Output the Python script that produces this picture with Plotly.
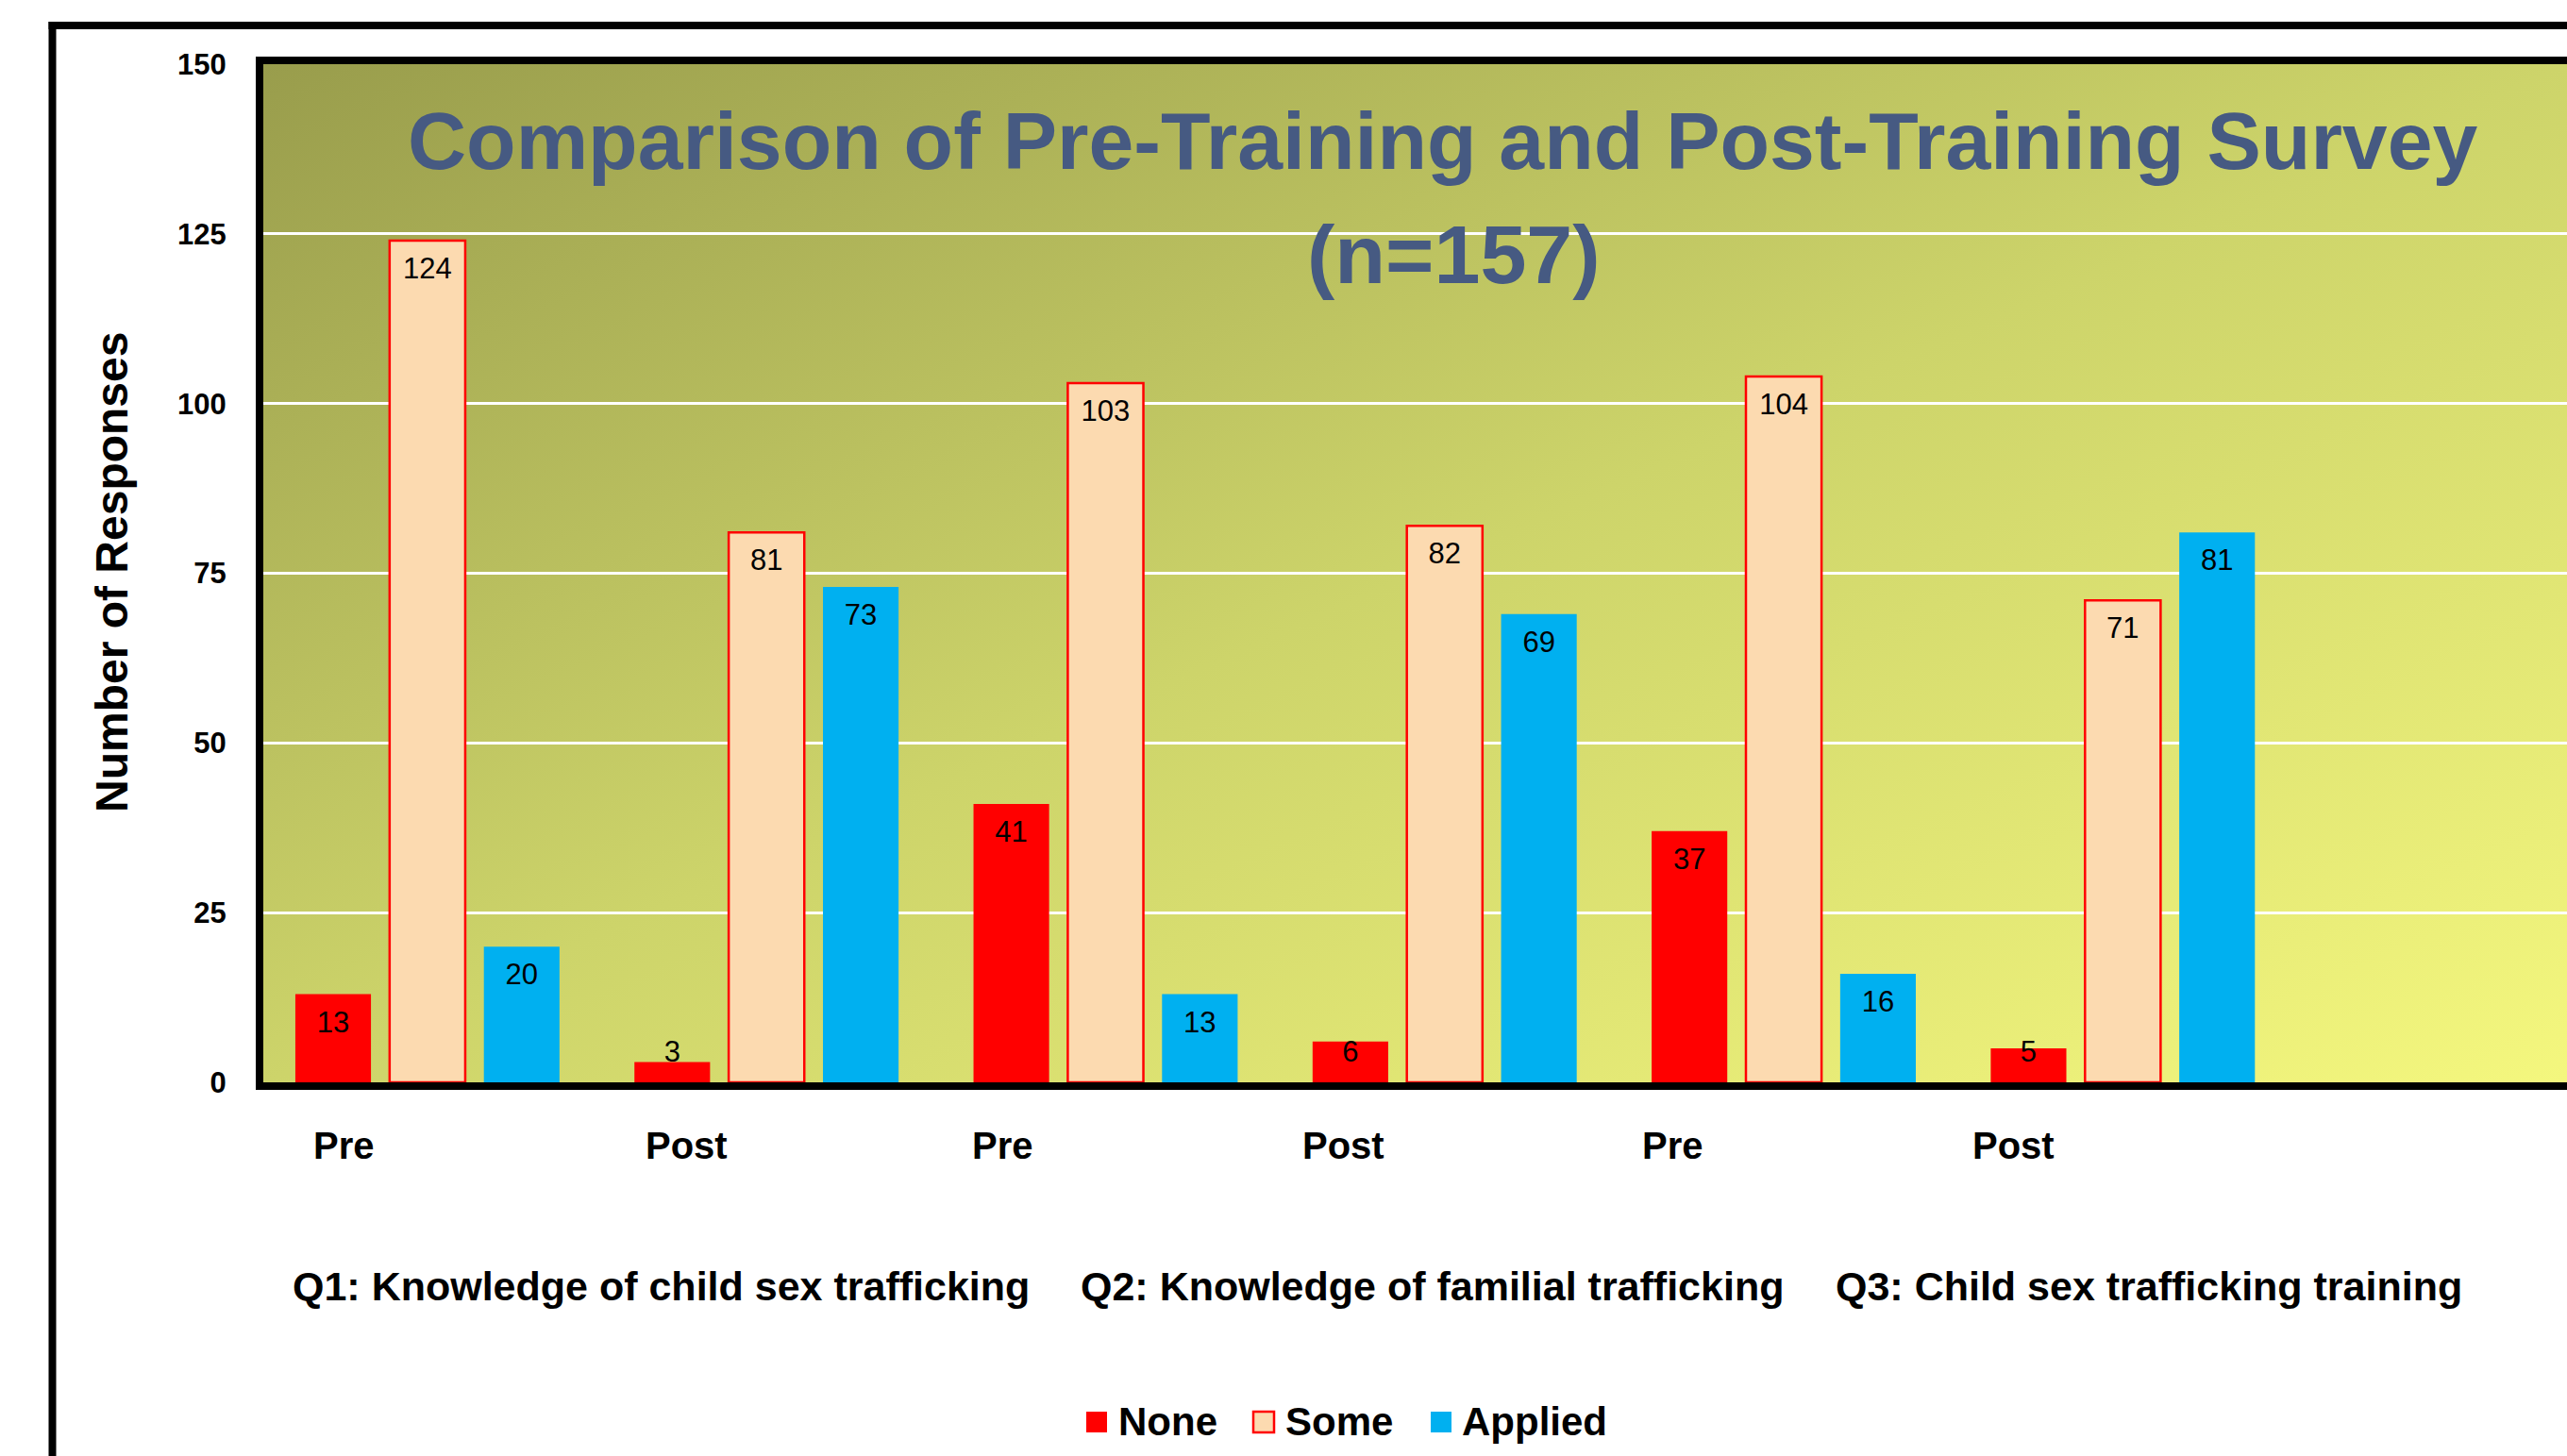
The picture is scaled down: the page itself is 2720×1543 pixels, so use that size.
import base64
import plotly.graph_objects as go

# ---------------- data ----------------
categories = ["Pre", "Post", "Pre", "Post", "Pre", "Post"]
questions = [
    "Q1: Knowledge of child sex trafficking",
    "Q2: Knowledge of familial trafficking",
    "Q3: Child sex trafficking training",
]
series_names = ["None", "Some", "Applied"]
none_vals = [13, 3, 41, 6, 37, 5]
some_vals = [124, 81, 103, 82, 104, 71]
applied_vals = [20, 73, 13, 69, 16, 81]
y_ticks = [0, 25, 50, 75, 100, 125, 150]
title_line1 = "Comparison of Pre-Training and Post-Training Survey"
title_line2 = "(n=157)"
y_title = "Number of Responses"

# ---------------- layout constants ----------------
W, H = 2720, 1543
L, R, T, B = 279, 0, 68, 396
PW, PH = W - L - R, H - T - B


def px(x):
    return (x - L) / PW


def py(y):
    return (H - B - y) / PH


X_RANGE = [-0.484, 6.31]
BAR_STEP = 0.278
BAR_W = 0.223
LABEL_OFF_TOP = 4.5
LABEL_OFF_BASE = 4.15
CAT_LABEL_SHIFT = [-0.245, -0.237, -0.302, -0.298, -0.326, -0.322]
Q_LABEL_LEFT = [-0.404, 1.920, 4.147]

FONT = "Liberation Sans, Arial, sans-serif"
RED = "#FF0000"
PEACH = "#FCDAB0"
BLUE = "#00B0F0"
TITLE_COLOR = "#465a82"

series = [
    (series_names[0], none_vals, RED, dict(width=0)),
    (series_names[1], some_vals, PEACH, dict(width=2.5, color=RED)),
    (series_names[2], applied_vals, BLUE, dict(width=0)),
]

idx = list(range(len(categories)))
fig = go.Figure()
for k, (name, vals, color, line) in enumerate(series):
    xs = [i + (k - 1) * BAR_STEP for i in idx]
    fig.add_trace(go.Bar(
        x=xs, y=vals, width=BAR_W, name=name,
        marker=dict(color=color, line=line),
        showlegend=False,
    ))
    fig.add_trace(go.Scatter(
        x=xs, y=[max(v - LABEL_OFF_TOP, LABEL_OFF_BASE) for v in vals],
        text=[str(v) for v in vals], mode="text",
        textposition="middle center",
        textfont=dict(family=FONT, size=31, color="black"),
        hoverinfo="skip", showlegend=False,
    ))

annotations = []
# category labels (Pre / Post)
for i, lab in enumerate(categories):
    annotations.append(dict(
        x=i + CAT_LABEL_SHIFT[i], y=py(1214), xref="x", yref="paper",
        text=f"<b>{lab}</b>", showarrow=False, xanchor="center", yanchor="middle",
        font=dict(family=FONT, size=40, color="black"),
    ))
# question labels
for q, xl in zip(questions, Q_LABEL_LEFT):
    annotations.append(dict(
        x=xl, y=py(1363), xref="x", yref="paper",
        text=f"<b>{q}</b>", showarrow=False, xanchor="left", yanchor="middle",
        font=dict(family=FONT, size=43, color="black"),
    ))
# title inside plot
annotations.append(dict(
    x=px(1529), y=py(149), xref="paper", yref="paper",
    text=f"<b>{title_line1}</b>", showarrow=False, xanchor="center", yanchor="middle",
    font=dict(family=FONT, size=86, color=TITLE_COLOR),
))
annotations.append(dict(
    x=px(1540), y=py(269), xref="paper", yref="paper",
    text=f"<b>{title_line2}</b>", showarrow=False, xanchor="center", yanchor="middle",
    font=dict(family=FONT, size=88, color=TITLE_COLOR),
))
# y-axis title
annotations.append(dict(
    x=px(118), y=py(607), xref="paper", yref="paper",
    text=f"<b>{y_title}</b>", showarrow=False, textangle=-90,
    xanchor="center", yanchor="middle",
    font=dict(family=FONT, size=48, color="black"),
))

# manual legend
shapes = []
legend_items = [
    (series_names[0], RED, None, 1151, 1183),
    (series_names[1], PEACH, RED, 1328, 1360),
    (series_names[2], BLUE, None, 1516, 1547),
]
for name, fill, border, sq_x, tx in legend_items:
    shapes.append(dict(
        type="rect", xref="paper", yref="paper",
        x0=px(sq_x), x1=px(sq_x + 22), y0=py(1518), y1=py(1496),
        fillcolor=fill,
        line=dict(color=border if border else fill, width=2.5 if border else 0),
    ))
    annotations.append(dict(
        x=px(tx), y=py(1506), xref="paper", yref="paper",
        text=f"<b>{name}</b>", showarrow=False, xanchor="left", yanchor="middle",
        font=dict(family=FONT, size=42, color="black"),
    ))

# outer frame (left & top)
shapes.append(dict(type="line", xref="paper", yref="paper",
                   x0=px(55.5), x1=px(55.5), y0=py(1560), y1=py(23),
                   line=dict(color="black", width=8)))
shapes.append(dict(type="line", xref="paper", yref="paper",
                   x0=px(51.5), x1=px(2740), y0=py(27), y1=py(27),
                   line=dict(color="black", width=8)))

# gradient background for the plot area
svg = (
    '<svg xmlns="http://www.w3.org/2000/svg" width="400" height="200" '
    'viewBox="0 0 400 200" preserveAspectRatio="none"><defs>'
    '<linearGradient id="g" x1="0" y1="0" x2="1" y2="1">'
    '<stop offset="0" stop-color="#999d4c"/>'
    '<stop offset="0.5" stop-color="#cdd46a"/>'
    '<stop offset="1" stop-color="#f4f77e"/>'
    '</linearGradient></defs>'
    '<rect width="400" height="200" fill="url(#g)"/></svg>'
)
src = "data:image/svg+xml;base64," + base64.b64encode(svg.encode()).decode()

fig.update_layout(
    width=W, height=H,
    margin=dict(l=L, r=R, t=T, b=B, pad=0),
    paper_bgcolor="white",
    plot_bgcolor="rgba(0,0,0,0)",
    barmode="overlay",
    showlegend=False,
    annotations=annotations,
    shapes=shapes,
    images=[dict(source=src, xref="paper", yref="paper", x=0, y=1,
                 sizex=1, sizey=1, sizing="stretch", layer="below",
                 xanchor="left", yanchor="top")],
    font=dict(family=FONT, color="black"),
    xaxis=dict(range=X_RANGE, showticklabels=False, showgrid=False, zeroline=False,
               showline=True, linecolor="black", linewidth=8, mirror=True,
               ticks=""),
    yaxis=dict(range=[0, 150], tickvals=y_ticks,
               ticktext=[f"<b>{v}</b>" for v in y_ticks],
               tickfont=dict(family=FONT, size=31, color="black"),
               showgrid=True, gridcolor="white", gridwidth=2.5,
               zeroline=False, showline=True, linecolor="black", linewidth=8,
               ticks="", ticklabelstandoff=25),
)

fig.write_html("out.html", config={"displayModeBar": False},
               post_script="document.body.style.margin='0';")
